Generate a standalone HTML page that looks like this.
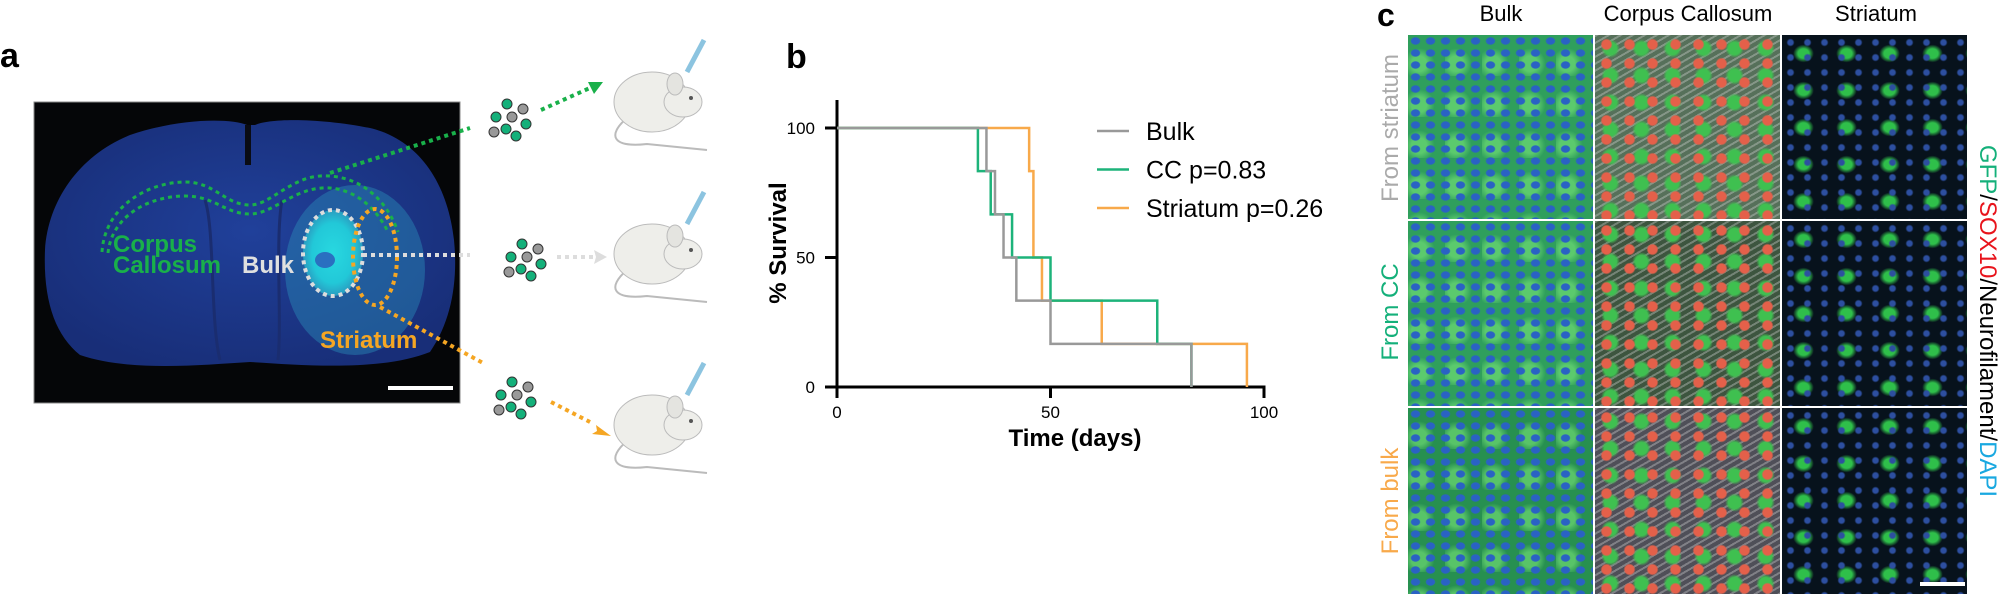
<!DOCTYPE html>
<html><head><meta charset="utf-8">
<style>
html,body{margin:0;padding:0;background:#fff;}
body{width:2000px;height:594px;position:relative;overflow:hidden;font-family:"Liberation Sans",Arial,sans-serif;}
.tile{position:absolute;}
.c1{background-color:#2f9f5c;background-image:radial-gradient(ellipse at 50% 50%, #2a62c4 38%, rgba(0,0,0,0) 48%),radial-gradient(circle at 30% 70%, rgba(120,230,120,.6) 20%, rgba(0,0,0,0) 40%);background-size:15px 12px,37px 41px;}
.c2{background-color:#56705a;background-image:radial-gradient(circle, #e4604a 30%, rgba(0,0,0,0) 40%),radial-gradient(circle, #3fc050 30%, rgba(0,0,0,0) 45%),repeating-linear-gradient(150deg, rgba(220,220,220,.35) 0 2px, rgba(0,0,0,0) 2px 6px);background-size:23px 19px,31px 27px,auto;}
.c3{background-color:#07121c;background-image:radial-gradient(circle, #2d4fa0 22%, rgba(0,0,0,0) 36%),radial-gradient(ellipse, #2fbf4a 18%, rgba(0,0,0,0) 34%);background-size:17px 15px,43px 37px;}
</style></head>
<body>
<svg width="2000" height="594" viewBox="0 0 2000 594" xmlns="http://www.w3.org/2000/svg" style="position:absolute;left:0;top:0">
 <defs>
  <radialGradient id="brainG" cx="50%" cy="45%" r="60%">
   <stop offset="0" stop-color="#20409a"/><stop offset="1" stop-color="#182e78"/>
  </radialGradient>
  <radialGradient id="tumG" cx="50%" cy="50%" r="50%">
   <stop offset="0" stop-color="#28d8e0"/><stop offset="0.7" stop-color="#22c8d8"/><stop offset="1" stop-color="#2a9cc0"/>
  </radialGradient>
 </defs>
 <!-- Panel a -->
 <text x="0" y="67" font-size="34" font-weight="bold" fill="#000">a</text>
 <g>
  <rect x="34" y="102" width="426" height="301" fill="#050608" stroke="#888" stroke-width="1"/>
  <path d="M247,125 C230,118 180,118 130,135 C80,155 48,200 45,250 C43,300 55,335 80,355 C130,372 200,365 250,362 C300,365 380,372 430,352 C452,320 458,280 454,240 C448,185 420,140 370,128 C320,118 270,118 255,125 Z" fill="url(#brainG)"/>
  <path d="M248,125 L248,165" stroke="#0a0c14" stroke-width="6"/>
  <path d="M205,200 C215,230 210,320 220,360" stroke="#1a2d70" stroke-width="3" fill="none"/>
  <path d="M282,200 C275,240 282,320 278,360" stroke="#1a2d70" stroke-width="3" fill="none"/>
  <ellipse cx="355" cy="270" rx="70" ry="85" fill="#2a8cb8" opacity="0.45"/>
  <ellipse cx="333" cy="253" rx="30" ry="43" fill="url(#tumG)"/>
  <ellipse cx="325" cy="260" rx="10" ry="8" fill="#2a70c0"/>
  <path d="M102,252 C105,205 150,182 185,182 C215,182 225,205 250,205 C270,205 290,178 320,176 C355,174 385,195 398,232" fill="none" stroke="#19b04a" stroke-width="3" stroke-dasharray="4 4"/>
  <path d="M108,253 C112,215 150,196 185,196 C215,196 225,214 250,214 C272,214 292,190 322,188 C350,186 375,205 388,232" fill="none" stroke="#19b04a" stroke-width="3" stroke-dasharray="4 4"/>
  <ellipse cx="333" cy="253" rx="30" ry="43" fill="none" stroke="#ddd" stroke-width="4" stroke-dasharray="4 4"/>
  <ellipse cx="375" cy="257" rx="22" ry="48" fill="none" stroke="#f5a623" stroke-width="4" stroke-dasharray="4 4"/>
  <text x="113" y="252" font-size="24" font-weight="bold" fill="#19b04a">Corpus</text>
  <text x="113" y="273" font-size="24" font-weight="bold" fill="#19b04a">Callosum</text>
  <text x="242" y="273" font-size="24" font-weight="bold" fill="#e0e0e0">Bulk</text>
  <text x="320" y="348" font-size="24" font-weight="bold" fill="#f5a623">Striatum</text>
  <line x1="388" y1="388" x2="453" y2="388" stroke="#fff" stroke-width="4"/>
 </g>
 <!-- arrows -->
 <path d="M330,173 L470,128" stroke="#19b04a" stroke-width="4" stroke-dasharray="4 4" fill="none"/>
 <path d="M541,110 L592,87" stroke="#19b04a" stroke-width="4" stroke-dasharray="4 4" fill="none"/>
 <path d="M603,82 L588,82 L594,94 Z" fill="#19b04a"/>
 <path d="M363,255 L470,255" stroke="#ddd" stroke-width="4" stroke-dasharray="4 4" fill="none"/>
 <path d="M557,257 L593,257" stroke="#ddd" stroke-width="4" stroke-dasharray="4 4" fill="none"/>
 <path d="M607,257 L594,250 L596,257 L594,264 Z" fill="#ddd"/>
 <path d="M380,307 L483,363" stroke="#f5a623" stroke-width="4" stroke-dasharray="4 4" fill="none"/>
 <path d="M551,402 L590,422" stroke="#f5a623" stroke-width="4" stroke-dasharray="4 4" fill="none"/>
 <path d="M611,436 L596,425 L597,431 L592,434 Z" fill="#f5a623"/>
 <!-- cell clusters -->
 <g transform="translate(512,122)" stroke="#333" stroke-width="1">
  <circle cx="-5" cy="-18" r="5" fill="#14b07a"/><circle cx="11" cy="-13" r="5" fill="#999"/>
  <circle cx="-16" cy="-5" r="5" fill="#14b07a"/><circle cx="0" cy="-5" r="5" fill="#999"/><circle cx="14" cy="2" r="5" fill="#14b07a"/>
  <circle cx="-18" cy="10" r="5" fill="#999"/><circle cx="-6" cy="7" r="5" fill="#14b07a"/><circle cx="4" cy="14" r="5" fill="#14b07a"/>
 </g>
 <g transform="translate(527,262)" stroke="#333" stroke-width="1">
  <circle cx="-5" cy="-18" r="5" fill="#14b07a"/><circle cx="11" cy="-13" r="5" fill="#999"/>
  <circle cx="-16" cy="-5" r="5" fill="#14b07a"/><circle cx="0" cy="-5" r="5" fill="#999"/><circle cx="14" cy="2" r="5" fill="#14b07a"/>
  <circle cx="-18" cy="10" r="5" fill="#999"/><circle cx="-6" cy="7" r="5" fill="#14b07a"/><circle cx="4" cy="14" r="5" fill="#14b07a"/>
 </g>
 <g transform="translate(517,400)" stroke="#333" stroke-width="1">
  <circle cx="-5" cy="-18" r="5" fill="#14b07a"/><circle cx="11" cy="-13" r="5" fill="#999"/>
  <circle cx="-16" cy="-5" r="5" fill="#14b07a"/><circle cx="0" cy="-5" r="5" fill="#999"/><circle cx="14" cy="2" r="5" fill="#14b07a"/>
  <circle cx="-18" cy="10" r="5" fill="#999"/><circle cx="-6" cy="7" r="5" fill="#14b07a"/><circle cx="4" cy="14" r="5" fill="#14b07a"/>
 </g>
 <!-- mice -->
 <g transform="translate(607,40)">
  <path d="M20,78 C0,95 5,108 40,104 L100,110" fill="none" stroke="#bbb" stroke-width="2"/>
  <ellipse cx="45" cy="62" rx="38" ry="30" fill="#eeeeea" stroke="#bbb"/>
  <ellipse cx="76" cy="62" rx="19" ry="15" fill="#eeeeea" stroke="#bbb"/>
  <ellipse cx="68" cy="44" rx="8" ry="11" fill="#e4e4e0" stroke="#bbb"/>
  <circle cx="84" cy="58" r="2" fill="#555"/>
  <line x1="97" y1="0" x2="80" y2="32" stroke="#8cc4e0" stroke-width="5"/>
 </g>
 <g transform="translate(607,192)">
  <path d="M20,78 C0,95 5,108 40,104 L100,110" fill="none" stroke="#bbb" stroke-width="2"/>
  <ellipse cx="45" cy="62" rx="38" ry="30" fill="#eeeeea" stroke="#bbb"/>
  <ellipse cx="76" cy="62" rx="19" ry="15" fill="#eeeeea" stroke="#bbb"/>
  <ellipse cx="68" cy="44" rx="8" ry="11" fill="#e4e4e0" stroke="#bbb"/>
  <circle cx="84" cy="58" r="2" fill="#555"/>
  <line x1="97" y1="0" x2="80" y2="32" stroke="#8cc4e0" stroke-width="5"/>
 </g>
 <g transform="translate(607,363)">
  <path d="M20,78 C0,95 5,108 40,104 L100,110" fill="none" stroke="#bbb" stroke-width="2"/>
  <ellipse cx="45" cy="62" rx="38" ry="30" fill="#eeeeea" stroke="#bbb"/>
  <ellipse cx="76" cy="62" rx="19" ry="15" fill="#eeeeea" stroke="#bbb"/>
  <ellipse cx="68" cy="44" rx="8" ry="11" fill="#e4e4e0" stroke="#bbb"/>
  <circle cx="84" cy="58" r="2" fill="#555"/>
  <line x1="97" y1="0" x2="80" y2="32" stroke="#8cc4e0" stroke-width="5"/>
 </g>
 <!-- Panel b -->
 <text x="786" y="68" font-size="34" font-weight="bold" fill="#000">b</text>
 <g id="chart"></g>
 <!-- Panel c -->
 <text x="1377" y="26" font-size="32" font-weight="bold" fill="#000">c</text>
 <text x="1501" y="21" font-size="22" text-anchor="middle" fill="#000">Bulk</text>
 <text x="1688" y="21" font-size="22" text-anchor="middle" fill="#000">Corpus Callosum</text>
 <text x="1876" y="21" font-size="22" text-anchor="middle" fill="#000">Striatum</text>
 <text transform="translate(1398,128) rotate(-90)" font-size="24" text-anchor="middle" fill="#aaa">From striatum</text>
 <text transform="translate(1398,312) rotate(-90)" font-size="24" text-anchor="middle" fill="#14b07a">From CC</text>
 <text transform="translate(1398,501) rotate(-90)" font-size="24" text-anchor="middle" fill="#f8a94a">From bulk</text>
 <text transform="translate(1980,321) rotate(90)" font-size="24" text-anchor="middle"><tspan fill="#14b07a">GFP</tspan><tspan fill="#000">/</tspan><tspan fill="#e8141c">SOX10</tspan><tspan fill="#000">/Neurofilament/</tspan><tspan fill="#19a8e0">DAPI</tspan></text>
</svg>
<div class="tile c1" style="left:1408px;top:35px;width:185px;height:184px"></div>
<div class="tile c2" style="left:1595px;top:35px;width:185px;height:184px"></div>
<div class="tile c3" style="left:1782px;top:35px;width:185px;height:184px"></div>
<div class="tile c1" style="left:1408px;top:221px;width:185px;height:185px"></div>
<div class="tile c2" style="left:1595px;top:221px;width:185px;height:185px;background-color:#3d553f"></div>
<div class="tile c3" style="left:1782px;top:221px;width:185px;height:185px"></div>
<div class="tile c1" style="left:1408px;top:408px;width:185px;height:186px;background-color:#279050"></div>
<div class="tile c2" style="left:1595px;top:408px;width:185px;height:186px;background-color:#4f4f58"></div>
<div class="tile c3" style="left:1782px;top:408px;width:185px;height:186px"></div>
<div class="tile" style="left:1920px;top:582px;width:45px;height:4px;background:#fff"></div>
<script>
const seriesNames = ["Striatum p=0.26", "CC p=0.83", "Bulk"];
const striatumTimes = [45, 46, 46, 48, 62, 96];
const ccTimes = [33, 36, 41, 50, 75, 83];
const bulkTimes = [35, 37, 39, 42, 50, 83];
const xTicks = [0, 50, 100];
const yTicks = [0, 50, 100];
const NS = "http://www.w3.org/2000/svg";
const chart = document.getElementById("chart");
const xs = d => 837 + d * 4.27;
const ys = v => 387 - v * 2.59;
function mk(tag, attrs) {
  const e = document.createElementNS(NS, tag);
  for (const k in attrs) e.setAttribute(k, attrs[k]);
  chart.appendChild(e);
  return e;
}
let ya = mk("line", {x1: 837, y1: 100, x2: 837, y2: 388.5, stroke: "#000", "stroke-width": 3});


let xa = mk("line", {x1: 825, y1: 387, x2: xs(100) + 1.5, y2: 387, stroke: "#000", "stroke-width": 3});


xTicks.forEach(t => {
  let tk = mk("line", {x1: xs(t), y1: 387, x2: xs(t), y2: 398, stroke: "#000", "stroke-width": 3});
  
  
  let lb = mk("text", {x: xs(t), y: 418, "font-size": 17, "text-anchor": "middle", fill: "#000"});
  lb.textContent = t;
  
  
});
yTicks.forEach(t => {
  let tk = mk("line", {x1: 825, y1: ys(t), x2: 837, y2: ys(t), stroke: "#000", "stroke-width": 3});
  
  
  let lb = mk("text", {x: 815, y: ys(t) + 6, "font-size": 17, "text-anchor": "end", fill: "#000"});
  lb.textContent = t;
  
  
});
let xt = mk("text", {x: 1075, y: 446, "font-size": 24, "font-weight": "bold", "text-anchor": "middle", fill: "#000"});
xt.textContent = "Time (days)";


let yt = mk("text", {transform: "translate(786,243) rotate(-90)", "font-size": 24, "font-weight": "bold", "text-anchor": "middle", fill: "#000"});
yt.textContent = "% Survival";


function kmPath(times) {
  const n = times.length;
  let s = 100, d = "M" + xs(0) + "," + ys(100);
  times.forEach(t => {
    d += " L" + xs(t) + "," + ys(s);
    s = s - 100 / n;
    d += " L" + xs(t) + "," + ys(Math.max(s, 0));
  });
  return d;
}
const colors = ["#f8a94a", "#1db37a", "#999999"];
const allTimes = [striatumTimes, ccTimes, bulkTimes];
const names = ["curve-striatum", "curve-cc", "curve-bulk"];
allTimes.forEach((tm, i) => {
  let p = mk("path", {d: kmPath(tm), fill: "none", stroke: colors[i], "stroke-width": 2.5});
  
  
});
[2, 1, 0].forEach((si, r) => {
  const y = 131 + r * 38.5;
  let l = mk("line", {x1: 1097, y1: y, x2: 1129, y2: y, stroke: colors[si], "stroke-width": 2.5});
  
  
  let t = mk("text", {x: 1146, y: y + 9, "font-size": 25, fill: "#000"});
  t.textContent = seriesNames[si];
  
  
});
</script>
</body></html>
